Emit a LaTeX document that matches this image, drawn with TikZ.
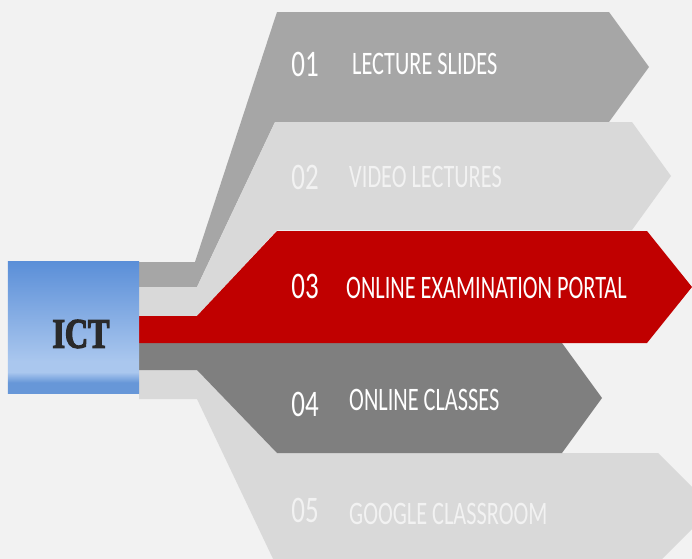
\documentclass[tikz,border=0pt]{standalone}
\usepackage{fontspec}
\usepackage{tikz}
\usetikzlibrary{shapes.geometric, positioning}
\setmainfont{Carlito}
\newfontfamily\itemfont[FakeStretch=0.68]{Carlito}
\newfontfamily\numfont[FakeStretch=0.72]{Carlito}
\newfontfamily\ictfont[FakeStretch=0.76, FakeBold=3]{Liberation Serif}
\definecolor{bgGray}{HTML}{F2F2F2}
\definecolor{midGray}{HTML}{A6A6A6}
\definecolor{lightGray}{HTML}{D9D9D9}
\definecolor{darkGray}{HTML}{7F7F7F}
\definecolor{portalRed}{HTML}{C00000}
\definecolor{ictTop}{HTML}{5B8FD8}
\definecolor{ictLight}{HTML}{AAC7EE}
\definecolor{ictDark}{HTML}{6797D8}
\definecolor{ictInk}{HTML}{2A2A2A}
\pgfdeclareverticalshading{ictshade}{100bp}{color(0bp)=(ictDark); color(25bp)=(ictDark); color(29bp)=(ictDark); color(33bp)=(ictLight); color(37bp)=(ictLight); color(75bp)=(ictTop); color(100bp)=(ictTop)}
\tikzstyle{ictbox} = [rectangle, minimum width=3.93cm, minimum height=3.93cm, inner sep=0pt, shading=ictshade]
\tikzstyle{icttext} = [inner sep=0pt, text=ictInk, font=\ictfont\bfseries\fontsize{36}{36}\selectfont]
\tikzstyle{itemnum} = [inner sep=0pt, text=white, font=\numfont\fontsize{32}{32}\selectfont]
\tikzstyle{itemtext} = [inner sep=0pt, anchor=west, text=white, font=\itemfont\fontsize{28}{28}\selectfont]

\begin{document}
\begin{tikzpicture}[x=0.03cm, y=-0.03cm]
        \useasboundingbox [fill=bgGray] (0,0) rectangle (692,559);
        \clip (0,0) rectangle (692,559);
        % arrows at the back
        \fill [midGray] (139,262) -- (195,262) -- (277,12) -- (609,12) -- (649,67) -- (609,122) -- (275,122) -- (197,287) -- (139,287) -- cycle;
        \fill [lightGray] (139,370) -- (197,370) -- (277,453) -- (658,453) -- (713,508) -- (658,563) -- (275,563) -- (197,399) -- (139,399) -- cycle;
        % arrows in front
        \fill [lightGray] (139,287) -- (197,287) -- (275,122) -- (632,122) -- (671,176) -- (632,230) -- (277,230) -- (197,316) -- (139,316) -- cycle;
        \fill [darkGray] (139,343) -- (562,343) -- (602,398) -- (562,453) -- (277,453) -- (197,370) -- (139,370) -- cycle;
        \fill [portalRed] (139,316) -- (197,316) -- (277,231) -- (647,231) -- (692,287) -- (647,343) -- (139,343) -- cycle;
        \node (ict) [ictbox] at (73.5,327.5) {};
        \node (ictname) [icttext] at (81,334) {ICT};
        \node (num1) [itemnum] at (305,64) {01};
        \node (item1) [itemtext] at (352,64) {LECTURE SLIDES};
        \node (num2) [itemnum, text=bgGray] at (305,177) {02};
        \node (item2) [itemtext, text=bgGray] at (349,177) {VIDEO LECTURES};
        \node (num3) [itemnum] at (305,286) {03};
        \node (item3) [itemtext] at (346,288) {ONLINE EXAMINATION PORTAL};
        \node (num4) [itemnum] at (305,404) {04};
        \node (item4) [itemtext] at (349,400) {ONLINE CLASSES};
        \node (num5) [itemnum, text=bgGray] at (305,510) {05};
        \node (item5) [itemtext, text=bgGray] at (349,514) {GOOGLE CLASSROOM};
    \end{tikzpicture}
\end{document}
